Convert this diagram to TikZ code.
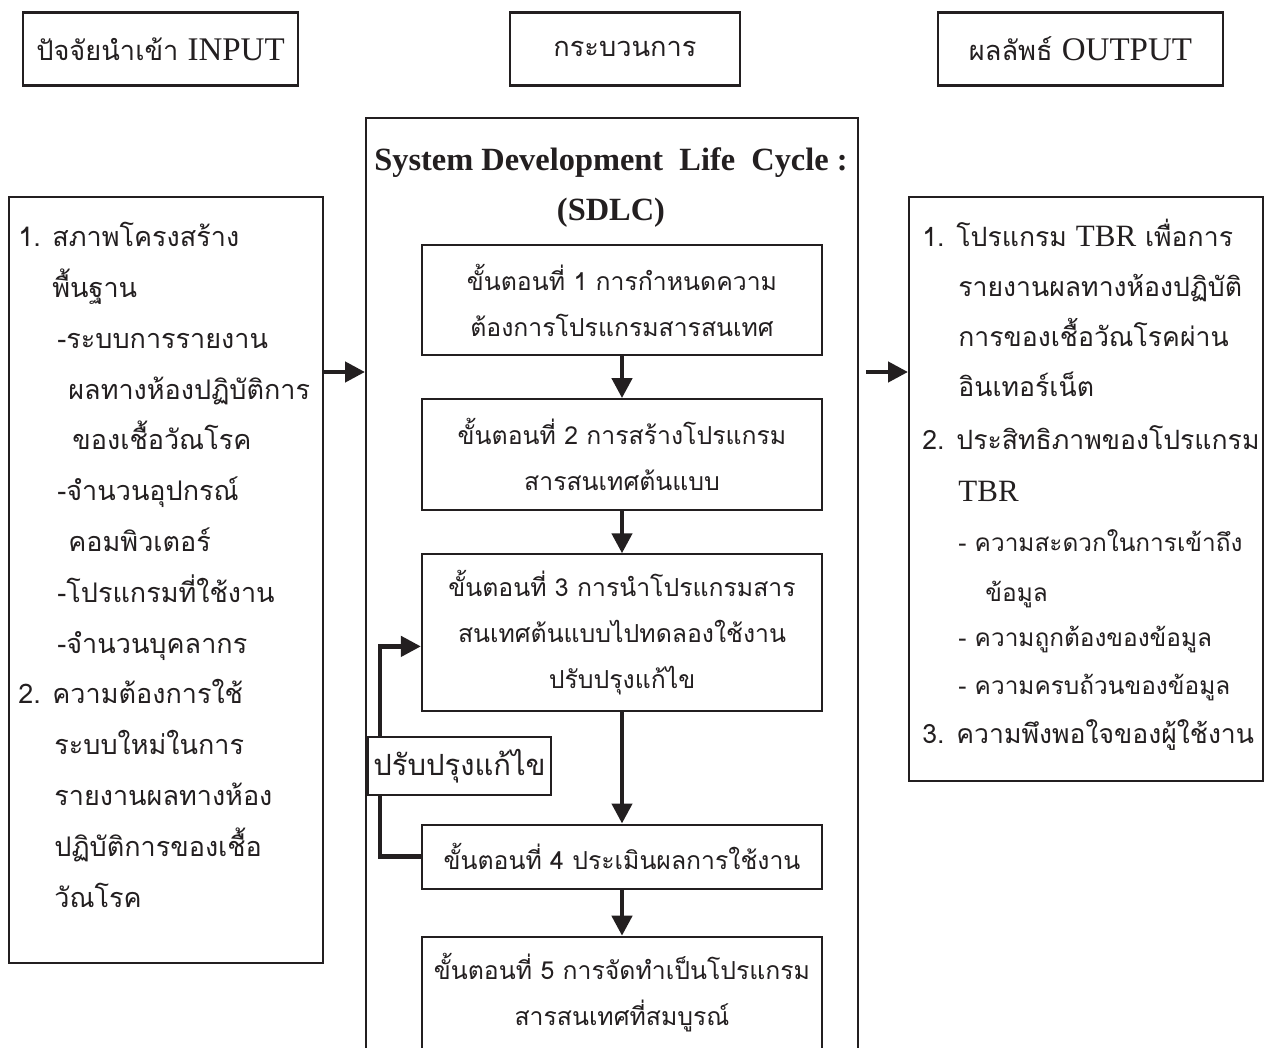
\documentclass[tikz,border=0pt]{standalone}
\usepackage{fontspec}
\setmainfont{Liberation Serif}
\newfontfamily\thaifont[Script=Thai]{Loma}
\usetikzlibrary{arrows.meta,positioning}
\definecolor{ink}{HTML}{231F20}
\newcommand\bodyfont{\thaifont\fontsize{13.5}{25.4}\selectfont}
\newcommand\stepfont{\thaifont\fontsize{12.4}{23}\selectfont}
\newcommand\subfont{\thaifont\fontsize{12.2}{24}\selectfont}
\newcommand\headfont{\thaifont\fontsize{13.6}{20}\selectfont}
\newcommand\lat[2][15.5]{{\rmfamily\fontsize{#1}{20}\selectfont #2}}
\newcommand\itm[2]{\makebox[17pt][l]{#1}#2}
\tikzset{
  frame/.style={draw=ink,line width=1.1pt,inner sep=0pt,text=ink},
  head/.style={frame,minimum height=36.5pt,font=\headfont},
  panel/.style={frame,anchor=north west},
  stepbox/.style={frame,minimum width=200pt,align=center,font=\stepfont},
  txt/.style={anchor=north west,align=left,inner sep=0pt,font=\bodyfont,text=ink},
  flow/.style={-{Triangle[length=10pt,width=10pt]},line width=2.2pt,color=ink},
  back/.style={line width=2.2pt,color=ink},
}
\begin{document}
\begin{tikzpicture}[x=0.5pt,y=-0.5pt]
  \useasboundingbox[fill=white] (0,0) rectangle (1266,1048);
  % column heads
  \node[head,minimum width=137.5pt] (hin) at (160.5,49) {ปัจจัยนำเข้า \lat[16.5]{INPUT}};
  \node[head,minimum width=115pt] (hproc) at (625,49) {กระบวนการ};
  \node[head,minimum width=142.5pt] (hout) at (1080.5,49) {ผลลัพธ์ \lat[16.5]{OUTPUT}};
  % panels
  \node[panel,minimum width=157pt,minimum height=383pt] (inp) at (8,196) {};
  \node[panel,minimum width=246pt,minimum height=480pt] (mid) at (365,117) {};
  \node[panel,minimum width=177pt,minimum height=292pt] (out) at (908,196) {};
  \node[txt] (inptxt) at (18,222) {%
    \itm{1.}{สภาพโครงสร้าง}\\
    \hspace*{17pt}พื้นฐาน\\
    \hspace*{19.5pt}-ระบบการรายงาน\\
    \hspace*{25pt}ผลทางห้องปฏิบัติการ\\
    \hspace*{27pt}ของเชื้อวัณโรค\\
    \hspace*{19.5pt}-จำนวนอุปกรณ์\\
    \hspace*{25pt}คอมพิวเตอร์\\
    \hspace*{19.5pt}-โปรแกรมที่ใช้งาน\\
    \hspace*{19.5pt}-จำนวนบุคลากร\\
    \itm{2.}{ความต้องการใช้}\\
    \hspace*{18pt}ระบบใหม่ในการ\\
    \hspace*{18pt}รายงานผลทางห้อง\\
    \hspace*{18pt}ปฏิบัติการของเชื้อ\\
    \hspace*{18pt}วัณโรค};
  \node[txt,font=\thaifont\fontsize{13.3}{25}\selectfont] (outtxt) at (922,219) {%
    \itm{1.}{โปรแกรม \lat{TBR} เพื่อการ}\\
    \hspace*{18pt}รายงานผลทางห้องปฏิบัติ\\
    \hspace*{18pt}การของเชื้อวัณโรคผ่าน\\
    \hspace*{18pt}อินเทอร์เน็ต\\[1.5pt]
    \itm{2.}{ประสิทธิภาพของโปรแกรม}\\[1pt]
    \hspace*{18pt}\lat{TBR}\\
    {\subfont\hspace*{18pt}- ความสะดวกในการเข้าถึง}\\
    {\subfont\hspace*{31.5pt}ข้อมูล}\\[-2.5pt]
    {\subfont\hspace*{18pt}- ความถูกต้องของข้อมูล}\\[-1pt]
    {\subfont\hspace*{18pt}- ความครบถ้วนของข้อมูล}\\[-0.5pt]
    \itm{3.}{ความพึงพอใจของผู้ใช้งาน}};
  % SDLC steps
  \node[font=\bfseries\fontsize{16.2}{25}\selectfont,align=center,text=ink] (ttl) at (611,188)
    {System Development\ \ Life\ \ Cycle :\\(SDLC)};
  \node[stepbox,minimum height=55pt] (s1) at (622,300) {ขั้นตอนที่ 1 การกำหนดความ\\ต้องการโปรแกรมสารสนเทศ};
  \node[stepbox,minimum height=55.5pt,below=21pt of s1] (s2) {ขั้นตอนที่ 2 การสร้างโปรแกรม\\สารสนเทศต้นแบบ};
  \node[stepbox,minimum height=78.5pt,below=21pt of s2] (s3) {ขั้นตอนที่ 3 การนำโปรแกรมสาร\\สนเทศต้นแบบไปทดลองใช้งาน\\ปรับปรุงแก้ไข};
  \node[stepbox,minimum height=32pt,below=55.5pt of s3] (s4) {ขั้นตอนที่ 4 ประเมินผลการใช้งาน};
  \node[stepbox,minimum height=56pt,below=23pt of s4] (s5) {ขั้นตอนที่ 5 การจัดทำเป็นโปรแกรม\\สารสนเทศที่สมบูรณ์};
  \foreach \a/\b in {s1/s2,s2/s3,s3/s4,s4/s5}{\draw[flow] (\a) -- (\b);}
  \node[frame,font=\thaifont\fontsize{14.6}{20}\selectfont,minimum width=91.5pt,minimum height=29pt] (fix) at (459.5,766) {ปรับปรุงแก้ไข};
  \coordinate (lx) at (380,0);
  \draw[back] (s4.west) -| (lx |- fix.south);
  \draw[flow] (lx |- fix.north) |- ([yshift=-6.75pt]s3.west);
  % input / output arrows
  \coordinate (ay) at (0,372);
  \draw[flow] (inp.east |- ay) -- (mid.west |- ay);
  \draw[flow,shorten <=3.5pt] (mid.east |- ay) -- (out.west |- ay);
\end{tikzpicture}
\end{document}
